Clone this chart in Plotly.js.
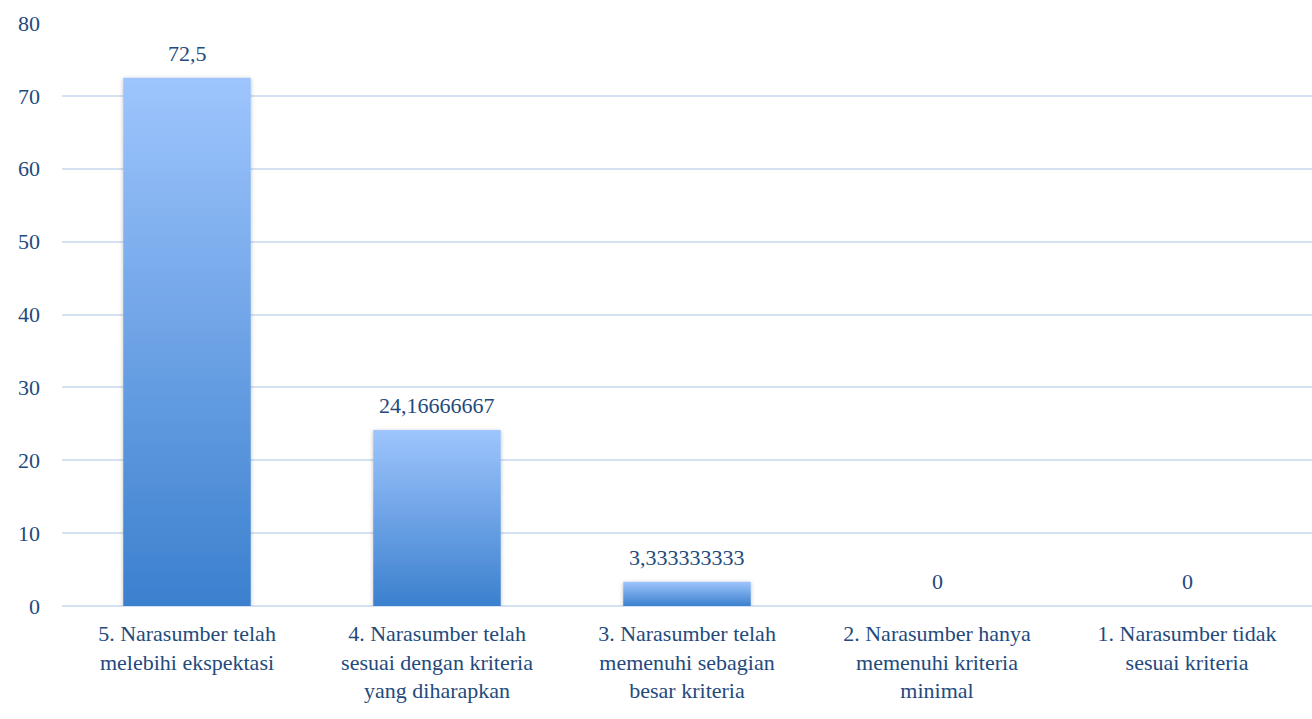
<!DOCTYPE html>
<html>
<head>
<meta charset="utf-8">
<script src="https://cdn.plot.ly/plotly-3.0.1.min.js"></script>
<style>html,body{margin:0;padding:0;background:#fff;}#chart{width:1312px;height:719px;}</style>
</head>
<body>
<div id="chart"></div>
<script>
const categories = [
  "5. Narasumber telah<br>melebihi ekspektasi",
  "4. Narasumber telah<br>sesuai dengan kriteria<br>yang diharapkan",
  "3. Narasumber telah<br>memenuhi sebagian<br>besar kriteria",
  "2. Narasumber hanya<br>memenuhi kriteria<br>minimal",
  "1. Narasumber tidak<br>sesuai kriteria"
];
const values = [72.5, 24.16666667, 3.333333333, 0, 0];
const valueLabels = ["72,5", "24,16666667", "3,333333333", "0", "0"];
const yTicks = [0, 10, 20, 30, 40, 50, 60, 70, 80];

const textColor = "#234a7c";
const gridColor = "#d5e1f2";
const fontFam = "Liberation Serif, serif";
const fs = 22;

const trace = {
  type: "bar",
  x: categories,
  y: values,
  width: 0.51,
  marker: { color: "#6a9fe6", line: { width: 0 } },
  hoverinfo: "none"
};

const annotations = categories.map((c, i) => ({
  x: c, y: values[i], text: valueLabels[i],
  xref: "x", yref: "y", yanchor: "bottom", yshift: 10,
  showarrow: false,
  font: { family: fontFam, size: fs, color: textColor }
}));

const layout = {
  width: 1312, height: 719,
  margin: { l: 62, r: 0, t: 23, b: 113 },
  paper_bgcolor: "#ffffff", plot_bgcolor: "#ffffff",
  showlegend: false,
  bargap: 0.49,
  font: { family: fontFam, size: fs, color: textColor },
  xaxis: {
    type: "category",
    showgrid: false, zeroline: false, showline: false,
    ticks: "", tickfont: { family: fontFam, size: fs, color: textColor },
    ticklabelstandoff: 12
  },
  yaxis: {
    range: [0, 80], tickvals: yTicks, ticktext: yTicks.map(String),
    showgrid: true, gridcolor: gridColor, gridwidth: 2,
    zeroline: true, zerolinecolor: gridColor, zerolinewidth: 2,
    showline: false, ticks: "",
    ticklabelstandoff: 21,
    tickfont: { family: fontFam, size: fs, color: textColor }
  },
  annotations: annotations
};

Plotly.newPlot("chart", [trace], layout, { displayModeBar: false, staticPlot: true }).then(gd => {
  const svg = gd.querySelector("svg.main-svg");
  const ns = "http://www.w3.org/2000/svg";
  let defs = svg.querySelector("defs");
  if (!defs) { defs = document.createElementNS(ns, "defs"); svg.insertBefore(defs, svg.firstChild); }
  const g = document.createElementNS(ns, "linearGradient");
  g.setAttribute("id", "barGrad");
  g.setAttribute("x1", "0"); g.setAttribute("y1", "0");
  g.setAttribute("x2", "0"); g.setAttribute("y2", "1");
  [["0%", "#9ec5fd"], ["100%", "#3b80ce"]].forEach(([o, c]) => {
    const s = document.createElementNS(ns, "stop");
    s.setAttribute("offset", o); s.setAttribute("stop-color", c);
    g.appendChild(s);
  });
  defs.appendChild(g);
  const f = document.createElementNS(ns, "filter");
  f.setAttribute("id", "barShadow");
  f.setAttribute("x", "-10%"); f.setAttribute("y", "-10%");
  f.setAttribute("width", "120%"); f.setAttribute("height", "120%");
  f.innerHTML = '<feDropShadow dx="0" dy="1" stdDeviation="2" flood-color="#000" flood-opacity="0.25"/>';
  defs.appendChild(f);
  gd.querySelectorAll(".barlayer .point path").forEach(p => {
    p.style.fill = "url(#barGrad)";
    p.style.filter = "url(#barShadow)";
  });
});
</script>
</body>
</html>
